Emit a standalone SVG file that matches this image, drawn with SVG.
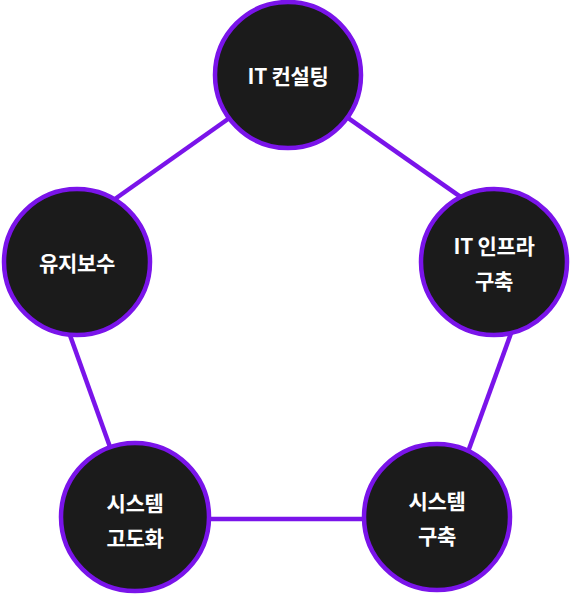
<svg xmlns="http://www.w3.org/2000/svg" width="572" height="595" viewBox="0 0 572 595">
<style>
.edge{stroke:#7a14ea;stroke-width:4.5;fill:none}
.node circle{fill:#1b1b1b;stroke:#7a14ea;stroke-width:4.5}
.node text{fill:#ffffff;font-family:"Noto Sans CJK KR","Noto Sans",sans-serif;font-size:21px;font-weight:700;text-anchor:middle;dominant-baseline:central;letter-spacing:-0.3px}
</style>
<rect width="572" height="595" fill="#ffffff"/>
<g id="connectors">
<line class="edge" x1="110" y1="202.5" x2="233" y2="115.5"/>
<line class="edge" x1="341.5" y1="113.4" x2="464.5" y2="199.6"/>
<line class="edge" x1="69" y1="332.5" x2="112" y2="452.5"/>
<line class="edge" x1="512" y1="330.6" x2="467" y2="454.4"/>
<line class="edge" x1="200" y1="519" x2="372" y2="519"/>
</g>
<g id="n-consulting" class="node">
<circle cx="288" cy="75" r="73"/>
<text x="288" y="75">IT 컨설팅</text>
</g>
<g id="n-maintenance" class="node">
<circle cx="77" cy="262" r="73"/>
<text x="77" y="262">유지보수</text>
</g>
<g id="n-infra" class="node">
<circle cx="494" cy="262" r="73"/>
<text x="494" y="245">IT 인프라</text>
<text x="494" y="280">구축</text>
</g>
<g id="n-advance" class="node">
<circle cx="135" cy="517" r="74"/>
<text x="135" y="502">시스템</text>
<text x="135" y="537">고도화</text>
</g>
<g id="n-build" class="node">
<circle cx="437" cy="517" r="73"/>
<text x="437" y="500">시스템</text>
<text x="437" y="535">구축</text>
</g>
</svg>
